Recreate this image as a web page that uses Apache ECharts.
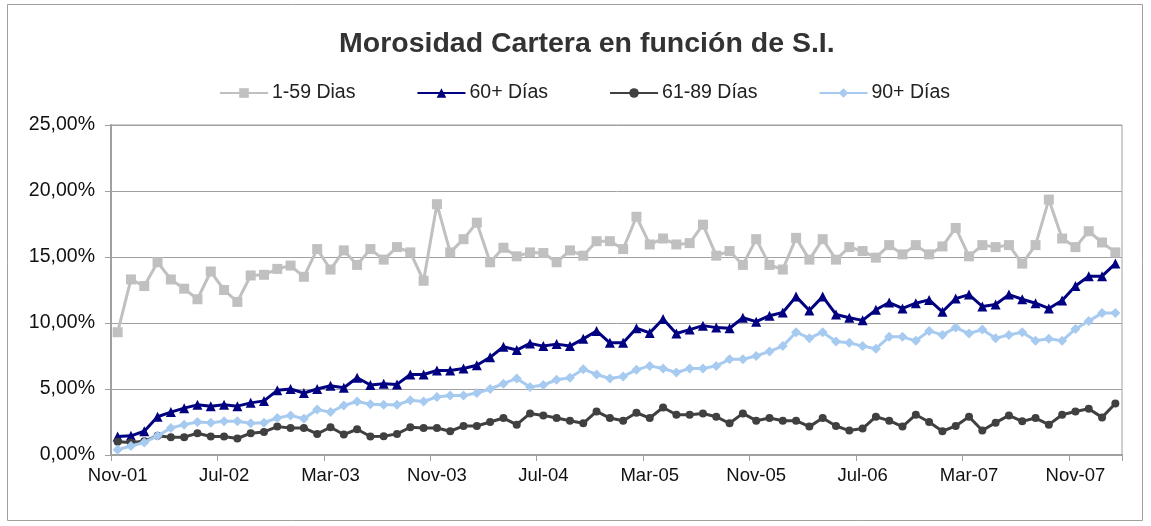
<!DOCTYPE html>
<html>
<head>
<meta charset="utf-8">
<script src="https://cdn.jsdelivr.net/npm/echarts@6/dist/echarts.min.js"></script>
<style>
  html, body { margin: 0; padding: 0; background: #fff; }
  #chart { width: 1151px; height: 526px; }
</style>
</head>
<body>
<div id="chart"></div>
<script>
  // month labels, Nov-01 .. Feb-08 (76 months)
  const monthNames = ['Jan', 'Feb', 'Mar', 'Apr', 'May', 'Jun', 'Jul', 'Aug', 'Sep', 'Oct', 'Nov', 'Dec']
  const categories = []
  for (let k = 0; k < 76; k++) {
    const m = (10 + k) % 12
    const y = 1 + Math.floor((10 + k) / 12)
    categories.push(monthNames[m] + '-' + String(y).padStart(2, '0'))
  }

  const seriesNames = ['1-59 Dias', '60+ Días', '61-89 Días', '90+ Días']

  // values in %
  const d1_59 = [
    9.3, 13.3, 12.8, 14.6, 13.3, 12.6, 11.8, 13.9, 12.5, 11.6,
    13.6, 13.65, 14.1, 14.35, 13.5, 15.6, 14.05, 15.5, 14.4, 15.6,
    14.8, 15.75, 15.35, 13.2, 19.0, 15.35, 16.35, 17.6, 14.6, 15.7,
    15.05, 15.35, 15.3, 14.6, 15.5, 15.1, 16.2, 16.2, 15.6, 18.05,
    15.95, 16.4, 15.95, 16.05, 17.45, 15.1, 15.45, 14.4, 16.35, 14.4,
    14.05, 16.45, 14.8, 16.35, 14.8, 15.75, 15.45, 14.95, 15.9, 15.2,
    15.9, 15.2, 15.8, 17.2, 15.05, 15.9, 15.75, 15.9, 14.5, 15.9,
    19.35, 16.4, 15.75, 16.95, 16.1, 15.35
  ]
  const d60plus = [
    1.4, 1.45, 1.8, 2.9, 3.25, 3.55, 3.8, 3.7, 3.8, 3.7,
    3.95, 4.1, 4.9, 5.0, 4.7, 5.0, 5.25, 5.1, 5.85, 5.3,
    5.4, 5.35, 6.1, 6.1, 6.4, 6.4, 6.55, 6.8, 7.4, 8.2,
    7.95, 8.45, 8.25, 8.4, 8.25, 8.8, 9.4, 8.5, 8.5, 9.6,
    9.25, 10.3, 9.2, 9.5, 9.8, 9.65, 9.6, 10.4, 10.1, 10.55,
    10.8, 12.0, 10.95, 12.0, 10.65, 10.4, 10.2, 11.0, 11.55, 11.1,
    11.5, 11.75, 10.85, 11.85, 12.15, 11.25, 11.4, 12.15, 11.8, 11.5,
    11.1, 11.7, 12.8, 13.55, 13.55, 14.5
  ]
  const d61_89 = [
    1.0, 0.95, 1.05, 1.45, 1.35, 1.35, 1.65, 1.4, 1.4, 1.25,
    1.65, 1.75, 2.15, 2.05, 2.05, 1.6, 2.1, 1.55, 1.95, 1.4,
    1.42, 1.6, 2.1, 2.05, 2.05, 1.8, 2.2, 2.2, 2.5, 2.8,
    2.3, 3.15, 3.0, 2.8, 2.6, 2.4, 3.3, 2.8, 2.6, 3.2,
    2.8, 3.6, 3.05, 3.05, 3.15, 2.9, 2.4, 3.15, 2.6, 2.8,
    2.6, 2.6, 2.15, 2.8, 2.2, 1.85, 2.0, 2.9, 2.6, 2.15,
    3.05, 2.5, 1.8, 2.2, 2.9, 1.85, 2.45, 3.0, 2.55, 2.8,
    2.3, 3.05, 3.3, 3.5, 2.85, 3.9
  ]
  const d90plus = [
    0.4, 0.68, 0.95, 1.45, 2.05, 2.3, 2.5, 2.45, 2.55, 2.55,
    2.4, 2.45, 2.8, 3.0, 2.75, 3.45, 3.25, 3.75, 4.05, 3.85,
    3.8, 3.8, 4.15, 4.05, 4.4, 4.5, 4.5, 4.7, 5.0, 5.4,
    5.8, 5.15, 5.3, 5.7, 5.85, 6.5, 6.1, 5.8, 5.95, 6.45,
    6.75, 6.55, 6.25, 6.55, 6.55, 6.75, 7.25, 7.25, 7.5, 7.85,
    8.25, 9.3, 8.85, 9.3, 8.6, 8.5, 8.25, 8.05, 8.95, 8.95,
    8.65, 9.4, 9.1, 9.65, 9.2, 9.5, 8.85, 9.1, 9.3, 8.65,
    8.8, 8.65, 9.55, 10.15, 10.75, 10.75
  ]

  const seriesData = [d1_59, d60plus, d61_89, d90plus]
  const colors = ['#c0c0c0', '#000080', '#404040', '#a6caf0']
  const symbols = ['rect', 'triangle', 'circle', 'diamond']
  const symbolSizes = [10, 10, 8, 10]

  const chart = echarts.init(document.getElementById('chart'))

  const series = []
  for (let i = 0; i < seriesNames.length; i++) {
    series.push({
      name: seriesNames[i],
      type: 'line',
      data: seriesData[i],
      symbol: symbols[i],
      symbolSize: symbolSizes[i],
      showAllSymbol: true,
      lineStyle: { color: colors[i], width: 3 },
      itemStyle: { color: colors[i] },
      z: 2 + i
    })
  }

  chart.setOption({
    animation: false,
    backgroundColor: '#fff',
    graphic: [{
      type: 'rect',
      shape: { x: 7.5, y: 4.5, width: 1135, height: 516 },
      style: { fill: 'none', stroke: '#a0a0a0', lineWidth: 1 },
      silent: true
    }],
    title: {
      text: 'Morosidad Cartera en función de S.I.',
      left: 334,
      top: 25,
      textStyle: {
        fontFamily: 'Liberation Sans',
        fontSize: 28.5,
        fontWeight: 'bold',
        color: '#333'
      }
    },
    legend: {
      data: seriesNames,
      left: 214,
      top: 78,
      itemWidth: 48,
      itemHeight: 12,
      itemGap: 61,
      textStyle: {
        fontFamily: 'Liberation Sans',
        fontSize: 19.5,
        color: '#222',
        padding: [0, 0, 0, -1]
      }
    },
    grid: {
      left: 111,
      right: 29,
      top: 125,
      bottom: 71,
      show: true,
      borderColor: '#a0a0a0',
      borderWidth: 1
    },
    xAxis: {
      type: 'category',
      data: categories,
      boundaryGap: true,
      axisLine: { lineStyle: { color: '#a0a0a0', width: 2 } },
      axisTick: { show: true, interval: 7, length: 6, lineStyle: { color: '#a0a0a0' } },
      axisLabel: {
        interval: 7,
        fontFamily: 'Liberation Sans',
        fontSize: 18.5,
        color: '#111',
        margin: 11
      },
      splitLine: { show: false }
    },
    yAxis: {
      type: 'value',
      min: 0,
      max: 25,
      interval: 5,
      axisLine: { show: true, lineStyle: { color: '#a0a0a0', width: 2 } },
      axisTick: { show: true, length: 6, lineStyle: { color: '#a0a0a0' } },
      axisLabel: {
        fontFamily: 'Liberation Sans',
        fontSize: 19.5,
        color: '#111',
        margin: 16,
        formatter: function (v) { return v.toFixed(2).replace('.', ',') + '%' }
      },
      splitLine: { show: true, lineStyle: { color: '#a0a0a0', width: 1 } }
    },
    series: series
  })
</script>
</body>
</html>
